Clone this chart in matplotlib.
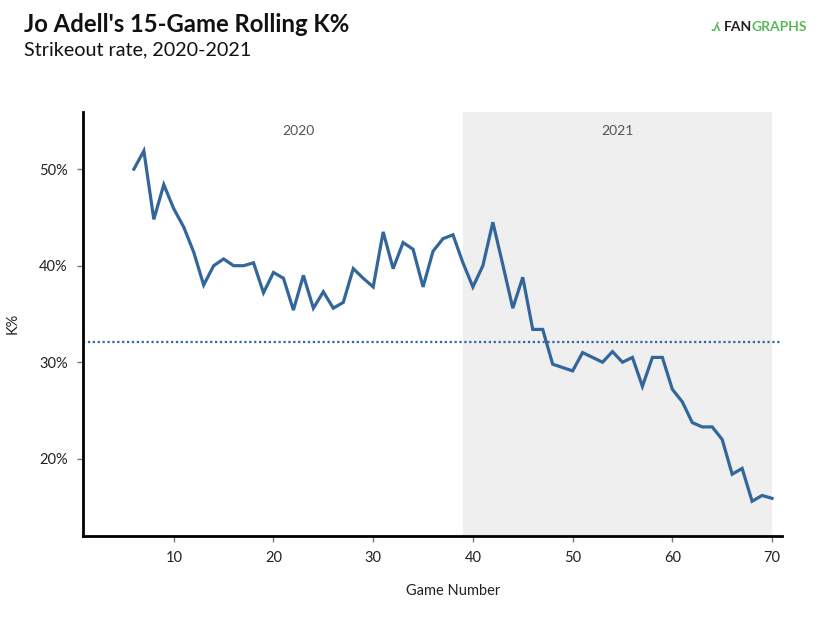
import matplotlib
matplotlib.use("Agg")
import matplotlib.pyplot as plt

plt.rcParams['font.family'] = ['Lato', 'DejaVu Sans']

# rolling 15-game strikeout rate (%), games 6..70
games = list(range(6, 71))
k_pct = [50.0, 51.9, 44.8, 48.4, 45.9, 44.0, 41.4, 38.0, 40.0, 40.7,
         40.0, 40.0, 40.3, 37.2, 39.3, 38.7, 35.4, 39.0, 35.6, 37.3,
         35.6, 36.2, 39.7, 38.7, 37.8, 43.5, 39.7, 42.4, 41.7, 37.8,
         41.5, 42.8, 43.2, 40.3, 37.8, 40.0, 44.5, 40.1, 35.6, 38.8,
         33.4, 33.4, 29.8, 29.45, 29.1, 31.0, 30.5, 30.0, 31.1, 30.0,
         30.5, 27.5, 30.5, 30.5, 27.2, 25.9, 23.75, 23.3, 23.3, 22.0,
         18.4, 19.0, 15.6, 16.2, 15.9]
league_avg = 32.1
season_break = 39
season_labels = ["2020", "2021"]
yticks = [20, 30, 40, 50]
xticks = [10, 20, 30, 40, 50, 60, 70]

line_blue = '#33669a'

fig = plt.figure(figsize=(8.27, 6.2), dpi=100)
ax = fig.add_axes([0.1004, 0.1355, 0.8446, 0.6835])

ax.axvspan(season_break, games[-1], color='#efefef', lw=0, zorder=0)
ax.axhline(league_avg, color=line_blue, lw=1.6, ls=(0, (1, 1.2)), zorder=1)
ax.plot(games, k_pct, color=line_blue, lw=2.3, zorder=3,
        solid_joinstyle='miter')

ax.text((games[0] + season_break) / 2, 54, season_labels[0], ha='center',
        va='center', fontsize=10, color='#555555')
ax.text((season_break + games[-1]) / 2, 54, season_labels[1], ha='center',
        va='center', fontsize=10, color='#555555')

ax.set_xlim(0.9, 70.95)
ax.set_ylim(12.0, 55.9)
ax.set_xticks(xticks)
ax.set_yticks(yticks)
ax.set_yticklabels([f"{t}%" for t in yticks])
ax.tick_params(axis='both', labelsize=10.5, color='#777777', length=4,
               width=1, labelcolor='#222222', pad=7)

for s in ['top', 'right']:
    ax.spines[s].set_visible(False)
for s in ['left', 'bottom']:
    ax.spines[s].set_linewidth(2)
    ax.spines[s].set_color('black')

fig.text(13 / 827, 1 - 323 / 620, "K%", rotation=90, ha='center',
         va='center', fontsize=10.5, color='#222222')
fig.text(453 / 827, 1 - 591 / 620, "Game Number", ha='center', va='center',
         fontsize=10.5, color='#222222')

fig.text(24 / 827, 1 - 25 / 620, "Jo Adell's 15-Game Rolling K%",
         ha='left', va='center', fontsize=17.2, fontweight='bold',
         color='#111111')
fig.text(24 / 827, 1 - 50 / 620, "Strikeout rate, 2020-2021",
         ha='left', va='center', fontsize=14.2, color='#111111')

# logo text
fig.text(710 / 827, 1 - 27 / 620, ".\u028e", ha='left', va='center',
         fontsize=10, fontweight='bold', color='#5cb85c')
fig.text(724 / 827, 1 - 27 / 620, "FAN", ha='left', va='center',
         fontsize=10, fontweight='bold', color='#222222')
fig.text(751 / 827, 1 - 27 / 620, "GRAPHS", ha='left', va='center',
         fontsize=10, fontweight='bold', color='#5cb85c')

fig.savefig('out.png', dpi=100)
